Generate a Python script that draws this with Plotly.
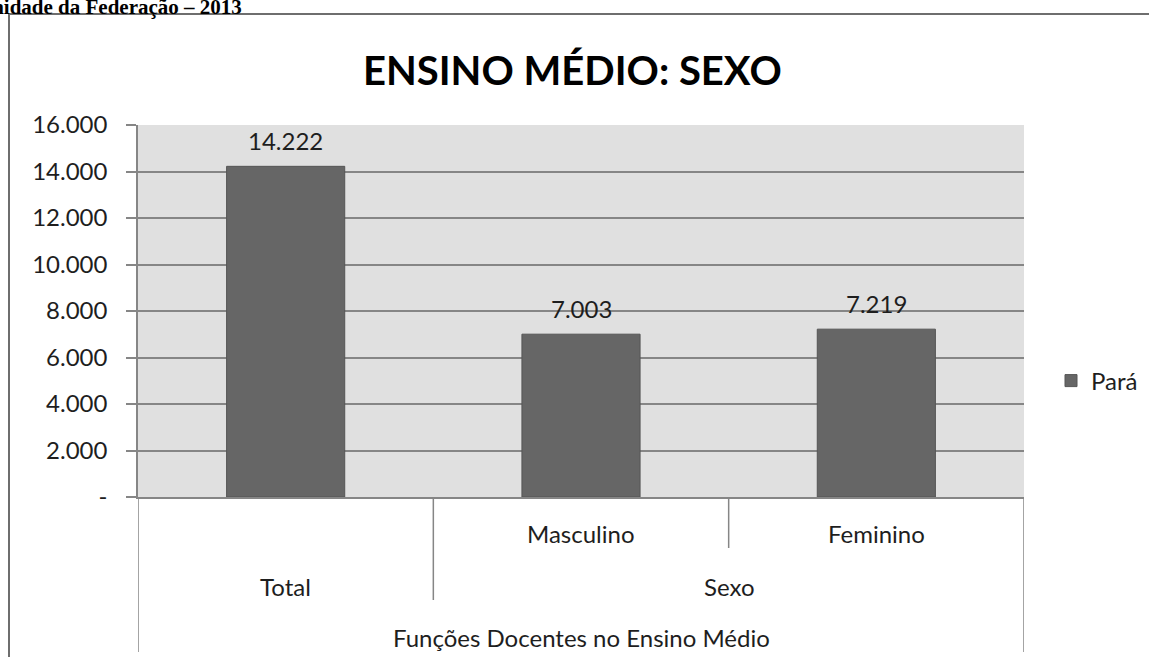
import plotly.graph_objects as go

# ---- data ----
categories = ["Total", "Masculino", "Feminino"]
values = [14222, 7003, 7219]
series_name = "Pará"
level1_labels = ["", "Masculino", "Feminino"]
level2_groups = [("Total", 0, 0), ("Sexo", 1, 2)]
level3_label = "Funções Docentes no Ensino Médio"
y_tickvals = [0, 2000, 4000, 6000, 8000, 10000, 12000, 14000, 16000]
y_ticktext = ["-", "2.000", "4.000", "6.000", "8.000", "10.000", "12.000", "14.000", "16.000"]
title_text = "ENSINO MÉDIO: SEXO"
page_header = "Unidade da Federação – 2013"

# ---- layout geometry (pixels) ----
W, H = 1149, 657
L, R, T, B = 138, 1024, 125, 497
PW, PH = R - L, B - T


def px(xp):
    return (xp - L) / PW


def py(yp):
    return (B - yp) / PH


FONT = "Lato"
GRAY = "#868686"
TXT = "#1e1e1e"

fig = go.Figure()
fig.add_trace(go.Bar(
    x=categories, y=values, name=series_name,
    marker=dict(color="#666666", line=dict(color="#555555", width=1)),
    width=0.4, showlegend=True,
))

annotations = []
# data labels
for c, v in zip(categories, values):
    annotations.append(dict(
        x=c, y=v, xref="x", yref="y", text=f"{v:,}".replace(",", "."),
        showarrow=False, yanchor="middle", yshift=26,
        font=dict(family=FONT, size=24, color=TXT)))

# level 1 labels
for i, lab in enumerate(level1_labels):
    if lab:
        annotations.append(dict(
            x=i, y=py(533), xref="x", yref="paper", text=lab, showarrow=False,
            yanchor="middle", font=dict(family=FONT, size=24, color=TXT)))
# level 2 labels
for lab, a, b in level2_groups:
    annotations.append(dict(
        x=(a + b) / 2, y=py(586), xref="x", yref="paper", text=lab, showarrow=False,
        yanchor="middle", font=dict(family=FONT, size=24, color=TXT)))
# level 3 label
annotations.append(dict(
    x=(len(categories) - 1) / 2, y=py(637), xref="x", yref="paper", text=level3_label,
    showarrow=False, yanchor="middle", font=dict(family=FONT, size=24, color=TXT)))

# title
annotations.append(dict(
    x=px(572), y=py(70), xref="paper", yref="paper", text=f"<b>{title_text}</b>",
    showarrow=False, xanchor="center", yanchor="middle",
    font=dict(family=FONT, size=40, color="#000000")))

# page header (cut off at top-left, as in the source page)
annotations.append(dict(
    x=px(244), y=py(7), xref="paper", yref="paper", text=f"<b>{page_header}</b>",
    showarrow=False, xanchor="right", yanchor="middle",
    font=dict(family="Liberation Serif", size=21, color="#000000")))

shapes = []
# chart border
shapes.append(dict(type="rect", xref="paper", yref="paper",
                   x0=px(9), x1=px(1200), y0=py(14), y1=py(700),
                   line=dict(color="#6e6e6e", width=2), fillcolor="rgba(0,0,0,0)", layer="below"))
# category dividers
dividers = [(-0.5, 652), (0.5, 600), (1.5, 548), (2.5, 652)]
for xv, yend in dividers:
    shapes.append(dict(type="line", xref="x", yref="paper", x0=xv, x1=xv,
                       y0=0, y1=py(yend), line=dict(color=GRAY, width=1.5)))

fig.update_layout(
    width=W, height=H,
    margin=dict(l=L, r=W - R, t=T, b=H - B, pad=0, autoexpand=False),
    paper_bgcolor="white", plot_bgcolor="#e0e0e0",
    font=dict(family=FONT, size=24, color=TXT),
    bargap=0.6,
    annotations=annotations, shapes=shapes,
    showlegend=True,
    legend=dict(x=px(1051), y=py(381), xanchor="left", yanchor="middle",
                font=dict(family=FONT, size=24, color=TXT),
                bgcolor="rgba(0,0,0,0)", itemclick=False),
)
fig.update_xaxes(range=[-0.5, 2.5], showticklabels=False, ticks="",
                 showline=True, linecolor=GRAY, linewidth=1.5, showgrid=False,
                 fixedrange=True)
fig.update_yaxes(range=[0, 16000], tickvals=y_tickvals, ticktext=y_ticktext,
                 showline=True, linecolor=GRAY, linewidth=1.5,
                 ticks="outside", ticklen=10, tickcolor=GRAY, tickwidth=1.5,
                 ticklabelstandoff=14,
                 showgrid=True, gridcolor=GRAY, gridwidth=1.5, zeroline=False,
                 tickfont=dict(family=FONT, size=24, color=TXT), fixedrange=True)

fig.write_html("out.html", config={"displayModeBar": False})
